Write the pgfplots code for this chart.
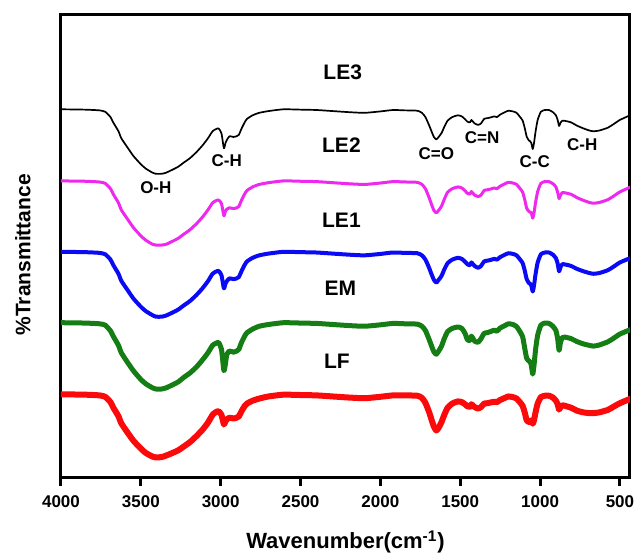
\documentclass[border=0pt]{standalone}
\usepackage{fontspec}
\setmainfont{Liberation Sans}
\usepackage{pgfplots}
\pgfplotsset{compat=1.18}
\definecolor{cMag}{RGB}{238,40,238}
\definecolor{cGreen}{RGB}{20,125,20}
\definecolor{cBlue}{RGB}{10,10,245}
\definecolor{cRed}{RGB}{250,10,10}
\begin{document}
\begin{tikzpicture}
\begin{axis}[name=ax, scale only axis, width=284.5pt, height=231.5pt,
 x dir=reverse, xmin=437, xmax=4000, ymin=-1348, ymax=-42,
 xtick={4000,3500,...,500}, ytick=\empty,
 xtick pos=left, tick align=outside, major tick length=4pt,
 axis line style={line width=1.5pt}, tick style={line width=1.5pt, black},
 /pgf/number format/assume math mode=true, /pgf/number format/1000 sep={},
 ticklabel style={font=\fontsize{8.5}{10}\selectfont\bfseries},
 xticklabel style={yshift=-1.5pt},
 xlabel={Wavenumber(cm\textsuperscript{-1})},
 xlabel style={font=\fontsize{11}{13}\selectfont\bfseries, at={(axis description cs:0.5,0)}, anchor=center, yshift=-32pt},
 ylabel={\%Transmittance},
 ylabel style={font=\fontsize{10.5}{12}\selectfont\bfseries, at={(axis description cs:0,0.482)}, anchor=center, rotate=0, yshift=19pt},
 every axis plot/.append style={smooth, tension=0.35, line join=round, line cap=round},
 clip=true]
% LE3
\addplot[black, line width=0.85pt] coordinates {(4000,-308) (3850,-309) (3760,-311) (3723,-315) (3690,-330) (3673,-345) (3640,-370) (3622,-390) (3580,-418) (3546,-440) (3500,-463) (3470,-475) (3430,-486) (3406,-490) (3370,-490) (3343,-487) (3300,-478) (3266,-470) (3230,-458) (3190,-445) (3150,-428) (3114,-410) (3080,-390) (3051,-370) (3030,-364) (3013,-362) (2995,-376) (2980,-418) (2970,-403) (2962,-395) (2945,-384) (2920,-386) (2900,-384) (2886,-380) (2870,-363) (2850,-345) (2835,-335) (2800,-325) (2759,-318) (2700,-313) (2607,-308) (2500,-309) (2400,-310) (2300,-313) (2200,-316) (2100,-318) (2000,-314) (1921,-310) (1850,-311) (1769,-312) (1740,-318) (1718,-330) (1695,-353) (1680,-370) (1665,-386) (1650,-393) (1635,-386) (1617,-375) (1600,-358) (1579,-340) (1550,-330) (1515,-325) (1490,-328) (1470,-336) (1455,-343) (1439,-345) (1430,-338) (1410,-348) (1388,-352) (1370,-348) (1350,-335) (1330,-333) (1310,-331) (1287,-328) (1270,-330) (1250,-323) (1220,-316) (1198,-312) (1170,-314) (1147,-318) (1125,-330) (1109,-340) (1095,-363) (1084,-385) (1070,-396) (1063,-398) (1055,-403) (1046,-420) (1038,-403) (1028,-370) (1015,-338) (995,-315) (970,-310) (944,-310) (920,-316) (901,-325) (890,-338) (881,-355) (872,-346) (860,-340) (840,-341) (805,-345) (770,-354) (728,-362) (690,-368) (665,-370) (630,-368) (576,-360) (540,-350) (500,-338) (437,-325)};
% LE2
\addplot[cMag, line width=1.5pt] coordinates {(4000,-510) (3850,-511) (3760,-513) (3723,-517) (3690,-532) (3673,-547) (3640,-572) (3622,-592) (3580,-620) (3546,-642) (3500,-665) (3470,-677) (3430,-688) (3406,-691) (3370,-691) (3343,-689) (3300,-680) (3266,-672) (3230,-660) (3190,-647) (3150,-630) (3114,-612) (3080,-592) (3051,-572) (3030,-566) (3013,-564) (2995,-574) (2980,-608) (2970,-595) (2962,-590) (2945,-586) (2920,-588) (2900,-586) (2886,-582) (2870,-565) (2850,-547) (2835,-537) (2800,-527) (2759,-520) (2700,-515) (2607,-510) (2500,-511) (2400,-512) (2300,-515) (2200,-518) (2100,-520) (2000,-516) (1921,-512) (1850,-513) (1769,-514) (1740,-520) (1718,-532) (1695,-557) (1680,-576) (1665,-593) (1650,-600) (1635,-593) (1617,-581) (1600,-562) (1579,-542) (1550,-532) (1515,-527) (1490,-530) (1470,-538) (1455,-545) (1439,-547) (1430,-540) (1410,-550) (1388,-554) (1370,-550) (1350,-537) (1330,-535) (1310,-533) (1287,-530) (1270,-532) (1250,-525) (1220,-518) (1198,-514) (1170,-516) (1147,-520) (1125,-532) (1109,-542) (1095,-565) (1084,-587) (1070,-596) (1063,-598) (1055,-600) (1046,-615) (1038,-600) (1028,-570) (1015,-540) (995,-517) (970,-512) (944,-512) (920,-518) (901,-527) (890,-542) (881,-560) (872,-550) (860,-543) (840,-544) (805,-548) (770,-557) (728,-565) (690,-571) (665,-573) (630,-571) (576,-563) (540,-553) (500,-541) (437,-528)};
% LE1
\addplot[cBlue, line width=2pt] coordinates {(4000,-710) (3850,-711) (3760,-713) (3723,-717) (3690,-732) (3673,-747) (3640,-772) (3622,-792) (3580,-820) (3546,-842) (3500,-865) (3470,-877) (3430,-888) (3406,-893) (3370,-893) (3343,-890) (3300,-881) (3266,-873) (3230,-861) (3190,-848) (3150,-831) (3114,-813) (3080,-793) (3051,-772) (3030,-766) (3013,-764) (2995,-776) (2980,-813) (2970,-800) (2962,-793) (2945,-785) (2920,-787) (2900,-785) (2886,-781) (2870,-765) (2850,-747) (2835,-737) (2800,-727) (2759,-720) (2700,-715) (2607,-710) (2500,-711) (2400,-712) (2300,-715) (2200,-718) (2100,-720) (2000,-716) (1921,-712) (1850,-713) (1769,-714) (1740,-720) (1718,-732) (1695,-755) (1680,-773) (1665,-789) (1650,-797) (1635,-789) (1617,-778) (1600,-760) (1579,-742) (1550,-732) (1515,-727) (1490,-730) (1470,-738) (1455,-745) (1439,-748) (1430,-740) (1410,-750) (1388,-755) (1370,-750) (1350,-737) (1330,-735) (1310,-733) (1287,-730) (1270,-732) (1250,-725) (1220,-718) (1198,-714) (1170,-716) (1147,-720) (1125,-732) (1109,-742) (1095,-765) (1084,-787) (1070,-798) (1063,-800) (1055,-805) (1046,-822) (1038,-805) (1028,-772) (1015,-740) (995,-717) (970,-712) (944,-712) (920,-718) (901,-728) (890,-743) (881,-765) (872,-753) (860,-745) (840,-746) (805,-750) (770,-758) (728,-765) (690,-770) (665,-772) (630,-770) (576,-762) (540,-752) (500,-740) (437,-728)};
% EM
\addplot[cGreen, line width=2.5pt] coordinates {(4000,-910) (3850,-911) (3760,-913) (3723,-917) (3690,-933) (3673,-948) (3640,-974) (3622,-995) (3580,-1024) (3546,-1046) (3500,-1070) (3470,-1082) (3430,-1093) (3406,-1097) (3370,-1097) (3343,-1094) (3300,-1085) (3266,-1077) (3230,-1064) (3190,-1051) (3150,-1034) (3114,-1015) (3080,-995) (3051,-974) (3030,-968) (3013,-966) (2995,-985) (2980,-1045) (2970,-1025) (2962,-1000) (2945,-990) (2920,-993) (2900,-990) (2886,-985) (2870,-966) (2850,-948) (2835,-938) (2800,-928) (2759,-920) (2700,-915) (2607,-910) (2500,-911) (2400,-912) (2300,-915) (2200,-918) (2100,-920) (2000,-916) (1921,-912) (1850,-913) (1769,-914) (1740,-920) (1718,-932) (1695,-957) (1680,-975) (1665,-992) (1650,-999) (1635,-990) (1617,-976) (1600,-955) (1579,-935) (1550,-926) (1515,-922) (1490,-926) (1470,-940) (1455,-958) (1439,-960) (1430,-948) (1410,-962) (1388,-965) (1370,-955) (1350,-940) (1330,-938) (1310,-935) (1287,-931) (1270,-934) (1250,-925) (1220,-918) (1198,-913) (1170,-915) (1147,-921) (1125,-936) (1109,-950) (1095,-985) (1084,-1010) (1070,-1018) (1063,-1020) (1055,-1030) (1046,-1055) (1038,-1030) (1028,-985) (1015,-945) (995,-917) (970,-911) (944,-912) (920,-920) (901,-932) (890,-955) (881,-988) (872,-965) (860,-952) (840,-951) (805,-955) (770,-963) (728,-970) (690,-974) (665,-976) (630,-973) (576,-964) (540,-954) (500,-942) (437,-930)};
% LF
\addplot[cRed, line width=3pt] coordinates {(4000,-1112) (3850,-1113) (3760,-1115) (3723,-1119) (3690,-1134) (3673,-1149) (3640,-1174) (3622,-1194) (3580,-1222) (3546,-1243) (3500,-1265) (3470,-1277) (3430,-1287) (3406,-1290) (3370,-1289) (3343,-1285) (3300,-1277) (3266,-1270) (3230,-1259) (3190,-1246) (3150,-1229) (3114,-1212) (3080,-1192) (3051,-1170) (3030,-1162) (3013,-1160) (2995,-1170) (2980,-1197) (2970,-1188) (2962,-1183) (2945,-1178) (2920,-1180) (2900,-1178) (2886,-1174) (2870,-1160) (2850,-1145) (2835,-1138) (2800,-1130) (2759,-1124) (2700,-1118) (2607,-1113) (2500,-1114) (2400,-1115) (2300,-1118) (2200,-1121) (2100,-1123) (2000,-1119) (1921,-1115) (1850,-1115) (1769,-1116) (1740,-1122) (1718,-1136) (1695,-1162) (1680,-1183) (1665,-1203) (1650,-1214) (1635,-1206) (1617,-1190) (1600,-1170) (1579,-1150) (1550,-1138) (1515,-1132) (1490,-1134) (1470,-1140) (1455,-1146) (1439,-1147) (1430,-1140) (1410,-1148) (1388,-1152) (1370,-1148) (1350,-1138) (1330,-1137) (1310,-1135) (1287,-1133) (1270,-1134) (1250,-1128) (1220,-1122) (1198,-1118) (1170,-1120) (1147,-1124) (1125,-1135) (1109,-1145) (1095,-1165) (1084,-1185) (1070,-1190) (1063,-1190) (1055,-1185) (1046,-1195) (1038,-1185) (1028,-1162) (1015,-1138) (995,-1120) (970,-1116) (944,-1116) (920,-1121) (901,-1130) (890,-1140) (881,-1155) (872,-1148) (860,-1143) (840,-1145) (805,-1150) (770,-1158) (728,-1163) (690,-1165) (665,-1165) (630,-1163) (576,-1156) (540,-1147) (500,-1137) (437,-1125)};
% labels
\node[font=\fontsize{10.5}{12}\selectfont\bfseries] at (axis cs:2236,-205) {LE3};
\node[font=\fontsize{10.5}{12}\selectfont\bfseries] at (axis cs:2244,-408) {LE2};
\node[font=\fontsize{10.5}{12}\selectfont\bfseries] at (axis cs:2244,-620) {LE1};
\node[font=\fontsize{10.5}{12}\selectfont\bfseries] at (axis cs:2251,-812) {EM};
\node[font=\fontsize{10.5}{12}\selectfont\bfseries] at (axis cs:2272,-1018) {LF};
\node[font=\fontsize{8.5}{10}\selectfont\bfseries] at (axis cs:3406,-530) {O-H};
\node[font=\fontsize{8.5}{10}\selectfont\bfseries] at (axis cs:2962,-452) {C-H};
\node[font=\fontsize{8.5}{10}\selectfont\bfseries] at (axis cs:1650,-432) {C=O};
\node[font=\fontsize{8.5}{10}\selectfont\bfseries] at (axis cs:1363,-388) {C=N};
\node[font=\fontsize{8.5}{10}\selectfont\bfseries] at (axis cs:1033,-455) {C-C};
\node[font=\fontsize{8.5}{10}\selectfont\bfseries] at (axis cs:736,-408) {C-H};
\end{axis}
\pgfresetboundingbox
\path[use as bounding box] ([shift={(-30.5pt,-38pt)}]ax.south west) rectangle ([shift={(2.5pt,7.5pt)}]ax.north east);
\end{tikzpicture}
\end{document}
